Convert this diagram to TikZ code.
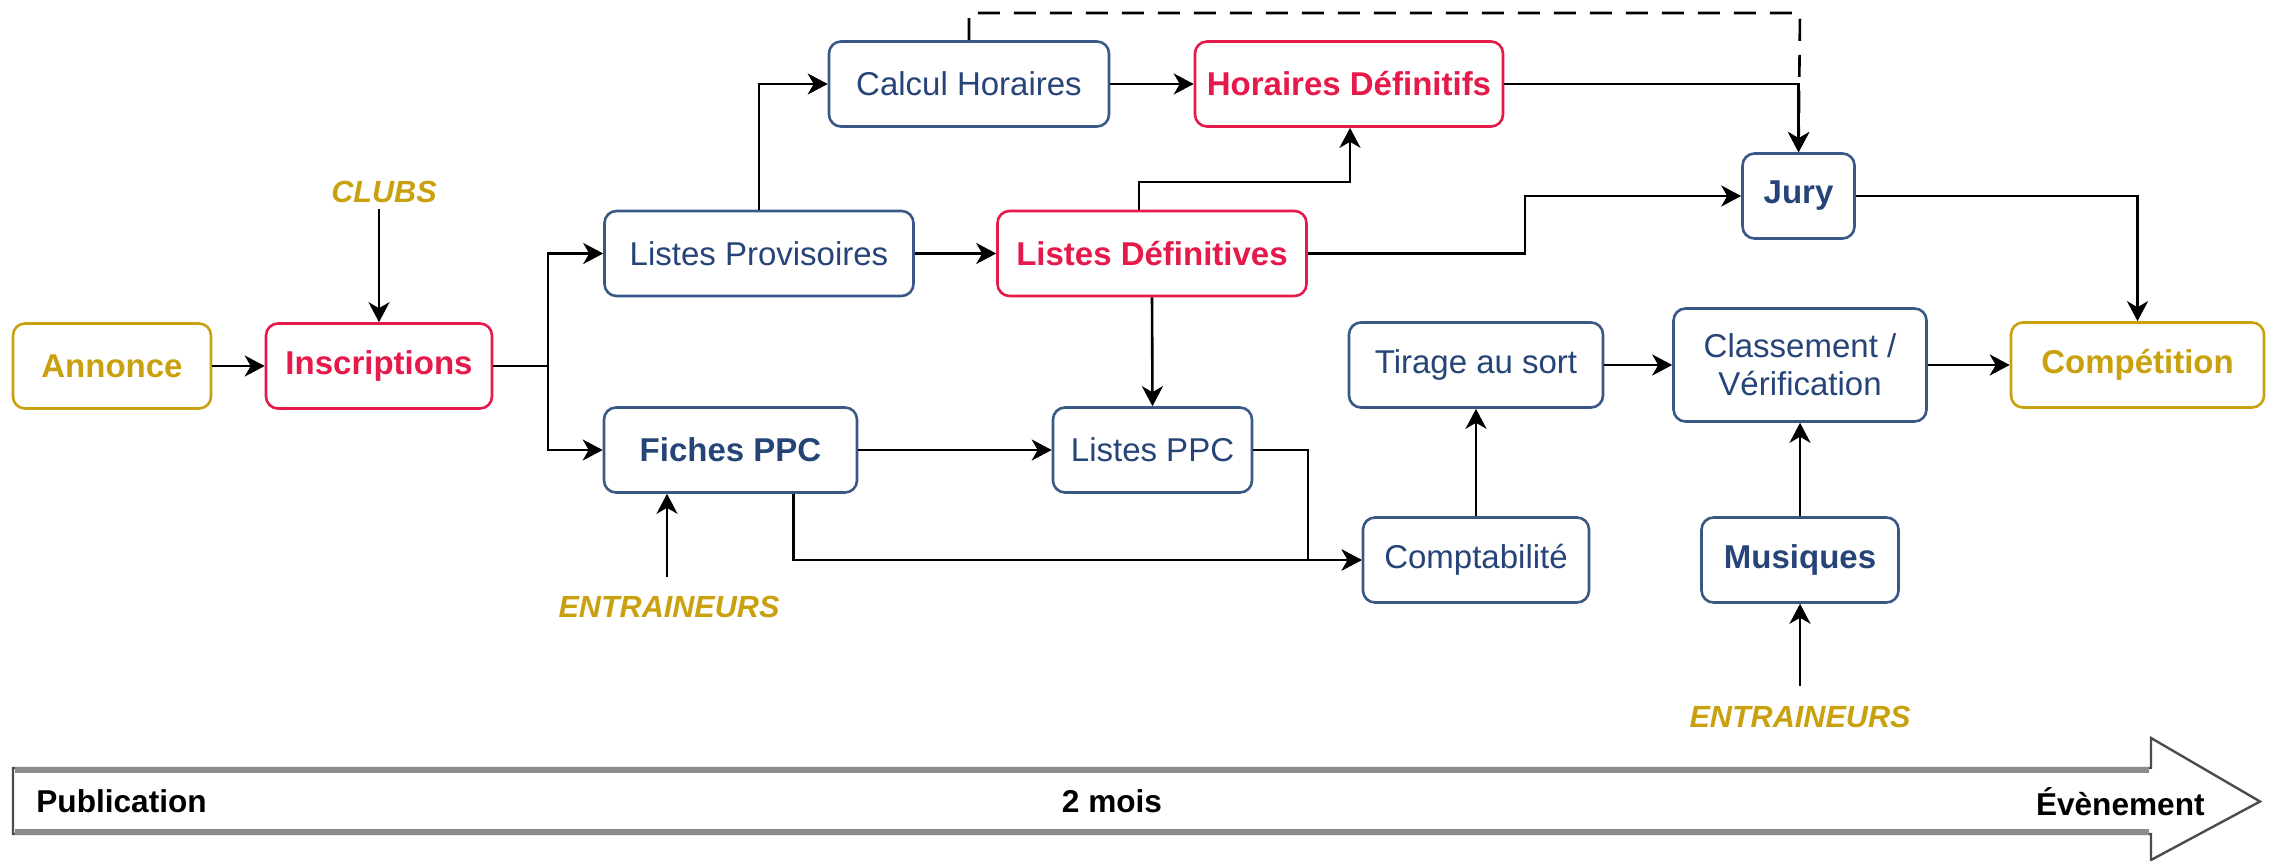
\documentclass[tikz,border=0pt]{standalone}
\usepackage{fontspec}
\setmainfont{Liberation Sans}
\usetikzlibrary{arrows.meta}
\definecolor{gold}{HTML}{C9A00E}
\definecolor{crim}{HTML}{E5194A}
\definecolor{navy}{HTML}{264478}
\definecolor{navyline}{HTML}{3A5886}
\begin{document}
\begin{tikzpicture}[x=0.5pt,y=-0.5pt,
  font=\fontsize{16.5}{19}\selectfont,
  box/.style={draw, rounded corners=6pt, line width=1.3pt, fill=white, inner sep=0pt, minimum height=42.5pt, align=center},
  goldbox/.style={box, draw=gold, text=gold, font=\fontsize{16.5}{19}\selectfont\bfseries},
  redbox/.style={box, draw=crim, text=crim, font=\fontsize{16.5}{19}\selectfont\bfseries},
  bluebox/.style={box, draw=navyline, text=navy},
  bluebold/.style={bluebox, font=\fontsize{16.5}{19}\selectfont\bfseries},
  extlabel/.style={text=gold, font=\fontsize{15.3}{18}\selectfont\bfseries\itshape, inner sep=0pt},
  conn/.style={line width=1.3pt, -{Stealth[length=10pt,width=10.5pt,inset=3pt]}},
  barlabel/.style={font=\fontsize{15.8}{18}\selectfont\bfseries, inner sep=0pt}
]
\useasboundingbox (0,0) rectangle (2279,861);

% nodes
\node[goldbox, minimum width=99pt] (ann) at (112,366) {Annonce};
\node[redbox, minimum width=113pt] (ins) at (379,366) {Inscriptions};
\node[bluebox, minimum width=154.5pt] (lprov) at (759,253.5) {Listes Provisoires};
\node[bluebold, minimum width=126.5pt] (fppc) at (730.5,450) {Fiches PPC};
\node[bluebox, minimum width=140pt] (calc) at (969,84) {Calcul Horaires};
\node[redbox, minimum width=154pt] (hdef) at (1349,84) {Horaires Définitifs};
\node[redbox, minimum width=154.5pt] (ldef) at (1152,253.5) {Listes Définitives};
\node[bluebox, minimum width=99.5pt] (lppc) at (1152.5,450) {Listes PPC};
\node[bluebold, minimum width=56pt] (jury) at (1798.5,196) {Jury};
\node[bluebox, minimum width=127pt] (tir) at (1476,365) {Tirage au sort};
\node[bluebox, minimum width=126.5pt, minimum height=56.5pt] (cls) at (1800,365) {Classement /\\Vérification};
\node[goldbox, minimum width=126.5pt] (comp) at (2137.5,365) {Compétition};
\node[bluebox, minimum width=113pt] (compta) at (1476,560) {Comptabilité};
\node[bluebold, minimum width=98.5pt] (mus) at (1800,560) {Musiques};

\node[extlabel] (clubs) at (384,192) {CLUBS};
\node[extlabel] (entr1) at (669,607) {ENTRAINEURS};
\node[extlabel] (entr2) at (1800,717) {ENTRAINEURS};

\coordinate (clubsend) at (379,209);
\coordinate (entr1end) at (667,577);
\coordinate (entr2end) at (1800,686);

% connectors
\draw[conn] (ann) -- (ins);
\draw[conn] (clubsend) -- (ins.north -| clubsend);
\draw[conn] (ins.east) -- (548,366) |- (lprov.west);
\draw[conn] (ins.east) -- (548,366) |- (fppc.west);
\draw[conn] (entr1end) -- (fppc.south -| entr1end);
\draw[conn] (lprov.north) |- (calc.west);
\draw[conn] (calc) -- (hdef);
\draw[conn] (lprov) -- (ldef);
\draw[conn] (ldef.north -| 1139,0) |- (1350,182) -- (hdef.south -| 1350,0);
\draw[conn] (ldef.south) -- (lppc.north);
\draw[conn] (fppc) -- (lppc);
\draw[conn] (hdef.east) -| (jury.north);
\draw[conn, dashed, dash pattern=on 11pt off 7pt] (calc.north) |- (1800,13) -- (jury.north);
\draw[conn] (ldef.east) -- (1525,253.5) |- (jury.west);
\draw[conn] (jury.east) -| (comp.north);
\draw[conn] (fppc.south -| 793.6,0) |- (compta.west);
\draw[conn] (lppc.east) -- (1308,450) |- (compta.west);
\draw[conn] (compta) -- (tir);
\draw[conn] (tir) -- (cls);
\draw[conn] (cls) -- (comp);
\draw[conn] (mus) -- (cls);
\draw[conn] (entr2end) -- (mus.south);

% timeline arrow
\draw[line width=1.2pt, draw=black!70, fill=white]
  (13,768) -- (2151,768) -- (2151,738) -- (2260,801.5) -- (2151,860) -- (2151,834) -- (13,834) -- cycle;
\draw[line width=3pt, draw=black!45] (15,770) -- (2149,770);
\draw[line width=3pt, draw=black!45] (15,832) -- (2149,832);
\node[barlabel, anchor=west] (pub) at (36,801.5) {Publication};
\node[barlabel] (mois) at (1112,801.5) {2 mois};
\node[barlabel, anchor=east] (evt) at (2205,801.5) {Évènement};
\end{tikzpicture}
\end{document}
